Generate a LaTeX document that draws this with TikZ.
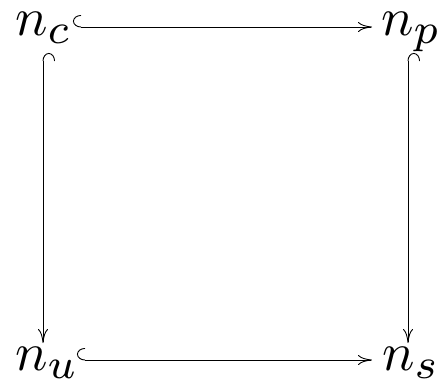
\documentclass[tikz,border=0pt]{standalone}
\usepackage{graphicx}
\usetikzlibrary{arrows.meta}
\newcommand{\sbx}[1]{\scalebox{1.12}{$\scriptstyle #1$}}
\begin{document}
\begin{tikzpicture}[x=1pt,y=-1pt,
  lbl/.style={inner sep=0pt, scale=5.4, anchor=base west},
  hk/.style={line width=0.9pt, {Hooks[right,length=8pt,width=24pt]}-{To[length=14pt,width=10pt]}}]
\useasboundingbox (0,0) rectangle (437,383);
\node[lbl] (c) at (14,35) {$n_{\sbx{c}}$};
\node[lbl] (p) at (380,35) {$n_{\sbx{p}}$};
\node[lbl] (u) at (14,370) {$n_{\sbx{u}}$};
\node[lbl] (s) at (381,370) {$n_{\sbx{s}}$};
\draw[hk] ([shift={(59,-8)}]c.base west) -- ([shift={(-8,-8)}]p.base west);
\draw[hk] ([shift={(63,-10)}]u.base west) -- ([shift={(-9,-10)}]s.base west);
\draw[hk] ([shift={(29,18)}]c.base west) -- ([shift={(29,-27)}]u.base west);
\draw[hk] ([shift={(28,18)}]p.base west) -- ([shift={(27,-27)}]s.base west);
\end{tikzpicture}
\end{document}
